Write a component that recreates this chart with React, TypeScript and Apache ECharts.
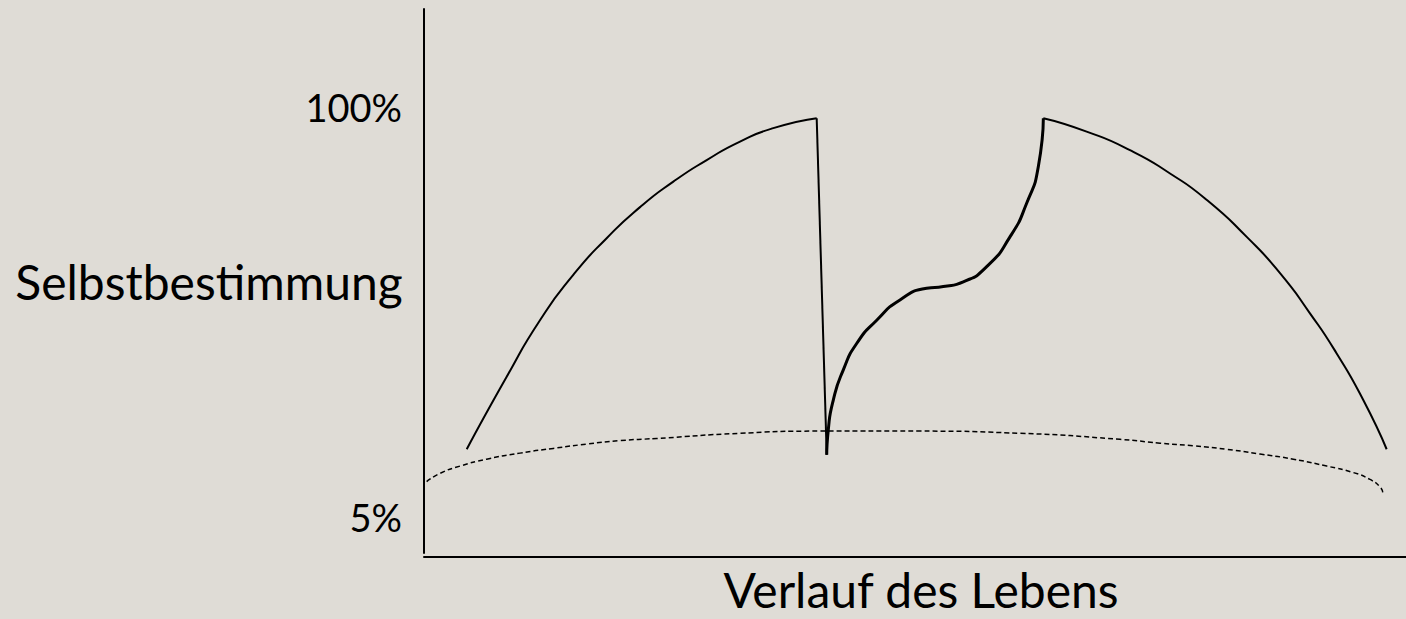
import React, { useEffect, useRef } from "react";
import * as echarts from "echarts";

// x: course of life (0–100), y: self-determination (%)
const leftArc: [number, number][] = [
  [4.35, 20.7], [8.42, 37.5], [11.81, 50.6], [15.2, 61.1], [18.6, 69.6], [22.0, 76.8],
  [25.39, 82.7], [28.79, 87.7], [32.18, 92.0], [35.57, 95.1], [39.99, 97.4],
];
const drop: [number, number][] = [
  [39.99, 97.4], [41.01, 19.4],
];
const recovery: [number, number][] = [
  [41.01, 19.4], [41.17, 25.2], [41.68, 32.1], [42.7, 39.1], [44.06, 45.2], [46.1, 50.6],
  [48.47, 55.3], [51.19, 58.0], [52.88, 58.4], [54.92, 59.5], [57.3, 63.0], [59.67, 69.9],
  [61.37, 77.7], [62.56, 86.2], [63.07, 97.4],
];
const rightArc: [number, number][] = [
  [63.07, 97.4], [67.48, 94.3], [71.89, 90.0], [75.97, 84.6], [79.7, 78.5], [83.78, 69.9],
  [87.17, 61.5], [90.22, 52.2], [92.94, 42.9], [95.65, 32.1], [98.03, 20.7],
];
const baseline: [number, number][] = [
  [0.27, 13.2], [1.63, 15.1], [3.67, 16.8], [6.38, 18.4], [9.78, 19.8], [13.17, 20.9],
  [16.57, 21.9], [19.96, 22.7], [23.7, 23.2], [32.18, 24.4], [40.33, 24.9], [50.5, 24.9],
  [60.69, 24.4], [70.88, 23.0], [74.95, 22.1], [78.34, 21.5], [81.74, 20.7], [85.13, 19.6],
  [88.52, 18.4], [91.93, 16.8], [94.63, 15.3], [96.33, 13.7], [97.35, 12.0], [97.63, 10.7],
];
const yTickValues = [5, 100];
const yTitle = "Selbstbestimmung";
const xTitle = "Verlauf des Lebens";

const FONT = "Lato, 'Open Sans', sans-serif";

export default function App() {
  const ref = useRef<HTMLDivElement>(null);
  useEffect(() => {
    document.body.style.margin = "0";
    document.body.style.background = "#dfdcd6";
    const chart = echarts.init(ref.current!, null, { renderer: "svg" });
    const line = (data: [number, number][], width: number, smooth: number | boolean, dashed = false) => ({
      type: "line",
      data,
      smooth,
      symbol: "none",
      showSymbol: false,
      silent: true,
      lineStyle: { color: "#000", width, type: dashed ? [5, 3] : "solid", cap: "butt", join: "miter" },
    });
    chart.setOption({
      animation: false,
      backgroundColor: "#dfdcd6",
      grid: { left: 424, right: 0, top: 9, bottom: 66, containLabel: false, outerBoundsMode: "none" },
      xAxis: {
        type: "value",
        min: 0,
        max: 100,
        offset: 4,
        axisLine: { show: true, onZero: false, lineStyle: { color: "#000", width: 2 } },
        axisTick: { show: false },
        axisLabel: { show: false },
        splitLine: { show: false },
      },
      yAxis: {
        type: "value",
        min: -3.34,
        max: 122.71,
        axisLine: { show: true, onZero: false, lineStyle: { color: "#000", width: 2 } },
        axisTick: { show: false },
        splitLine: { show: false },
        axisLabel: {
          show: true,
          customValues: yTickValues,
          formatter: (v: number) => `${v}%`,
          color: "#000",
          fontFamily: FONT,
          fontSize: 38,
          margin: 22,
        },
      },
      graphic: [
        {
          type: "text",
          x: 209,
          y: 281,
          style: { text: yTitle, fill: "#000", fontFamily: FONT, fontSize: 48, textAlign: "center", textVerticalAlign: "middle", align: "center", verticalAlign: "middle" },
        },
        {
          type: "text",
          x: 921,
          y: 589,
          style: { text: xTitle, fill: "#000", fontFamily: FONT, fontSize: 48, textAlign: "center", textVerticalAlign: "middle", align: "center", verticalAlign: "middle" },
        },
      ],
      series: [
        line(leftArc, 2, 0.6),
        line(drop, 2, false),
        line(recovery, 3, 0.6),
        line(rightArc, 2, 0.6),
        line(baseline, 1.5, 0.6, true),
      ],
    });
    return () => chart.dispose();
  }, []);
  return <div ref={ref} style={{ width: 1406, height: 619, background: "#dfdcd6" }} />;
}
